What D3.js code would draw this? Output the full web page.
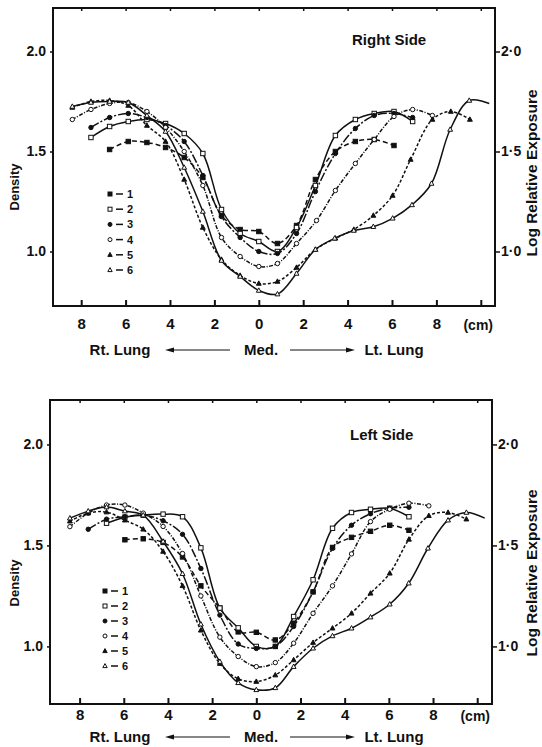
<!DOCTYPE html>
<html>
<head>
<meta charset="utf-8">
<script src="https://cdn.jsdelivr.net/npm/d3@7"></script>
<style>
  body { margin: 0; background: #fff; }
  svg { font-family: "Liberation Sans", Arial, sans-serif; font-weight: bold; }
</style>
</head>
<body>
<div id="chart"></div>
<script>
// ---- data: [cm, density] (negative cm = Rt. Lung side) ----
var xTicks = [-8, -6, -4, -2, 0, 2, 4, 6, 8, 10];
var yTicks = [1.0, 1.5, 2.0];
var seriesNames = ['1', '2', '3', '4', '5', '6'];

// Right Side
var rightS1 = [[-6.72,1.51],[-5.88,1.55],[-5.04,1.545],[-4.2,1.52],[-3.36,1.47],[-2.52,1.37],[-1.68,1.18],[-0.84,1.11],[0,1.10],[0.84,1.04],[1.7,1.13],[2.55,1.36],[3.45,1.50],[4.35,1.55],[5.2,1.56],[6.09,1.53]];
var rightS2 = [[-7.56,1.57],[-6.72,1.625],[-5.88,1.65],[-5.04,1.66],[-4.2,1.64],[-3.36,1.59],[-2.52,1.49],[-1.68,1.21],[-0.84,1.09],[0,1.05],[0.84,1.0],[1.7,1.12],[2.55,1.33],[3.45,1.58],[4.35,1.66],[5.2,1.69],[6.09,1.70],[6.93,1.65]];
var rightS3 = [[-7.56,1.62],[-6.72,1.67],[-5.88,1.69],[-5.04,1.67],[-4.2,1.63],[-3.36,1.55],[-2.52,1.38],[-1.68,1.175],[-0.84,1.07],[0,1.0],[0.84,0.99],[1.7,1.09],[2.55,1.30],[3.45,1.49],[4.35,1.615],[5.2,1.68],[6.09,1.69],[6.93,1.67]];
var rightS4 = [[-8.4,1.66],[-7.56,1.71],[-6.72,1.74],[-5.88,1.745],[-5.04,1.70],[-4.2,1.62],[-3.36,1.50],[-2.52,1.33],[-1.68,1.07],[-0.84,0.975],[0,0.925],[0.84,0.94],[1.7,1.04],[2.6,1.155],[3.45,1.305],[4.35,1.44],[5.2,1.56],[6.09,1.675],[6.93,1.71],[7.82,1.68]];
var rightS5 = [[-8.4,1.72],[-7.56,1.75],[-6.72,1.755],[-5.88,1.73],[-5.04,1.63],[-4.2,1.55],[-3.36,1.36],[-2.52,1.12],[-1.68,0.96],[-0.84,0.88],[0,0.84],[0.84,0.85],[1.7,0.92],[2.55,1.01],[3.45,1.066],[4.28,1.11],[5.16,1.18],[6.03,1.28],[6.84,1.46],[7.82,1.66],[8.65,1.70],[9.51,1.66]];
var rightS6 = [[-8.4,1.725],[-7.56,1.745],[-6.72,1.75],[-5.88,1.745],[-5.04,1.68],[-4.2,1.60],[-3.36,1.42],[-2.52,1.20],[-1.68,0.955],[-0.84,0.875],[0,0.805],[0.84,0.787],[1.7,0.89],[2.55,1.01],[3.42,1.066],[4.28,1.105],[5.16,1.124],[6.03,1.166],[6.9,1.233],[7.78,1.34],[8.62,1.61],[9.48,1.755],[10.38,1.74]];

// Left Side
var leftS1 = [[-5.95,1.528],[-5.12,1.533],[-4.22,1.515],[-3.34,1.443],[-2.51,1.30],[-1.65,1.19],[-0.82,1.072],[0,1.07],[0.86,1.032],[1.69,1.115],[2.57,1.27],[3.45,1.49],[4.31,1.54],[5.17,1.57],[6.04,1.60],[6.91,1.575]];
var leftS2 = [[-6.78,1.61],[-5.95,1.64],[-5.12,1.65],[-4.22,1.655],[-3.34,1.642],[-2.51,1.488],[-1.65,1.19],[-0.82,1.092],[0,1.0],[0.86,1.0],[1.69,1.148],[2.57,1.33],[3.45,1.585],[4.31,1.663],[5.17,1.679],[6.04,1.684],[6.91,1.642]];
var leftS3 = [[-7.61,1.58],[-6.78,1.63],[-5.95,1.642],[-5.12,1.65],[-4.22,1.622],[-3.34,1.555],[-2.51,1.386],[-1.65,1.155],[-0.82,1.012],[0,0.99],[0.86,1.0],[1.69,1.099],[2.57,1.27],[3.45,1.486],[4.31,1.60],[5.17,1.657],[6.04,1.684],[6.91,1.689]];
var leftS4 = [[-8.44,1.593],[-7.61,1.66],[-6.78,1.70],[-5.95,1.70],[-5.12,1.66],[-4.22,1.594],[-3.34,1.46],[-2.51,1.25],[-1.65,1.046],[-0.82,0.95],[0,0.90],[0.86,0.92],[1.69,1.016],[2.57,1.164],[3.45,1.30],[4.31,1.458],[5.17,1.618],[6.04,1.679],[6.91,1.709],[7.81,1.696]];
var leftS5 = [[-8.44,1.62],[-7.61,1.66],[-6.78,1.665],[-5.95,1.625],[-5.12,1.58],[-4.22,1.47],[-3.34,1.30],[-2.51,1.08],[-1.65,0.915],[-0.82,0.84],[0,0.826],[0.86,0.858],[1.69,0.933],[2.57,1.019],[3.45,1.09],[4.31,1.164],[5.17,1.263],[6.04,1.362],[6.91,1.53],[7.81,1.647],[8.68,1.663],[9.51,1.63]];
var leftS6 = [[-8.44,1.635],[-7.61,1.67],[-6.78,1.69],[-5.95,1.67],[-5.12,1.65],[-4.22,1.52],[-3.34,1.36],[-2.51,1.11],[-1.65,0.925],[-0.82,0.82],[0,0.785],[0.86,0.795],[1.69,0.90],[2.57,0.991],[3.45,1.052],[4.31,1.09],[5.17,1.145],[6.04,1.209],[6.9,1.313],[7.77,1.486],[8.68,1.625],[9.51,1.663],[10.34,1.635]];

// ---- styles per series ----
var dashes = ['5,3', null, '9,2,2,2', '4,1.5,1,1.5', '3,2', null];
var symbols = ['square', 'square', 'circle', 'circle', 'triangle', 'triangle'];
var filled = [true, false, true, false, true, false];
var fontFamily = '"Liberation Sans", Arial, sans-serif';

var width = 542, height = 747;
var svg = d3.select('#chart').append('svg')
  .attr('width', width)
  .attr('height', height);

// draws one marker
var drawMarker = function(g, kind, fill, cx, cy, r) {
  var m;
  if (kind === 'circle') {
    m = g.append('circle').attr('cx', cx).attr('cy', cy).attr('r', r);
  } else if (kind === 'square') {
    m = g.append('rect').attr('x', cx - r).attr('y', cy - r).attr('width', 2 * r).attr('height', 2 * r);
  } else {
    m = g.append('path').attr('d', 'M' + cx + ',' + (cy - r * 1.2) + 'L' + (cx + r * 1.1) + ',' + (cy + r * 0.8) + 'L' + (cx - r * 1.1) + ',' + (cy + r * 0.8) + 'Z');
  }
  m.attr('fill', fill ? '#111' : '#fff').attr('stroke', '#111').attr('stroke-width', 1);
};

// draws one panel
var drawPanel = function(p) {
  var x = d3.scaleLinear().domain(p.xDomain).range([p.left, p.right]);
  var y = d3.scaleLinear().domain(p.yDomain).range([p.bottom, p.top]);
  var g = svg.append('g');

  // frame
  g.append('rect')
    .attr('x', p.left).attr('y', p.top)
    .attr('width', p.right - p.left).attr('height', p.bottom - p.top)
    .attr('fill', 'none').attr('stroke', '#111').attr('stroke-width', 2);

  // bottom axis, ticks inward
  var bottomAxis = d3.axisBottom(x).tickValues(xTicks).tickSize(-6).tickPadding(p.labelPad)
    .tickFormat(function(d) { return d === 10 ? '' : Math.abs(d); });
  var ba = g.append('g').attr('transform', 'translate(0,' + p.bottom + ')').call(bottomAxis);
  ba.select('.domain').remove();
  ba.selectAll('line').attr('stroke', '#111').attr('stroke-width', 2);
  ba.selectAll('text').attr('font-size', 15).attr('font-weight', 'bold').attr('fill', '#111')
    .attr('font-family', fontFamily);

  // top ticks
  var ta = g.append('g').attr('transform', 'translate(0,' + p.top + ')')
    .call(d3.axisTop(x).tickValues(xTicks).tickSize(-3).tickFormat(''));
  ta.select('.domain').remove();
  ta.selectAll('line').attr('stroke', '#111').attr('stroke-width', 1.5);

  // left axis
  var la = g.append('g').attr('transform', 'translate(' + p.left + ',0)')
    .call(d3.axisLeft(y).tickValues(yTicks).tickSize(3).tickPadding(4).tickFormat(d3.format('.1f')));
  la.select('.domain').remove();
  la.selectAll('line').attr('stroke', '#111').attr('stroke-width', 1.5);
  la.selectAll('text').attr('font-size', 14).attr('fill', '#111')
    .attr('font-family', fontFamily).attr('font-weight', 'bold');

  // right axis
  var ra = g.append('g').attr('transform', 'translate(' + p.right + ',0)')
    .call(d3.axisRight(y).tickValues(yTicks).tickSize(5).tickPadding(1)
      .tickFormat(function(d) { return d3.format('.1f')(d).replace('.', '·'); }));
  ra.select('.domain').remove();
  ra.selectAll('line').attr('stroke', '#111').attr('stroke-width', 1.5);
  ra.selectAll('text').attr('font-size', 14).attr('fill', '#111')
    .attr('font-family', fontFamily).attr('font-weight', 'bold');

  // curves
  var line = d3.line()
    .x(function(d) { return x(d[0]); })
    .y(function(d) { return y(d[1]); })
    .curve(d3.curveCatmullRom.alpha(0.5));

  p.series.forEach(function(s, i) {
    g.append('path')
      .attr('d', line(s))
      .attr('fill', 'none')
      .attr('stroke', '#111')
      .attr('stroke-width', 1.5)
      .attr('stroke-dasharray', dashes[i]);
  });
  p.series.forEach(function(s, i) {
    var mg = g.append('g');
    s.forEach(function(d, j) {
      if (i === 5 && j === s.length - 1) { return; } // curve 6 tail has no marker
      drawMarker(mg, symbols[i], filled[i], x(d[0]), y(d[1]), 2.2);
    });
  });

  // legend
  seriesNames.forEach(function(name, i) {
    var ly = p.legendTop + i * p.legendStep;
    drawMarker(g, symbols[i], filled[i], p.legendX, ly, 2);
    g.append('line').attr('x1', p.legendX + 6).attr('x2', p.legendX + 13)
      .attr('y1', ly).attr('y2', ly).attr('stroke', '#111').attr('stroke-width', 1.5);
    g.append('text').attr('x', p.legendX + 17).attr('y', ly + 4)
      .attr('font-size', 11).attr('fill', '#111').text(name);
  });

  // title
  g.append('text').attr('x', p.titleX).attr('y', p.titleY)
    .attr('font-size', 15).attr('fill', '#111').text(p.title);

  // (cm)
  g.append('text').attr('x', p.right - 2).attr('y', p.bottom + p.labelPad + 12)
    .attr('text-anchor', 'end').attr('font-size', 14).attr('fill', '#111').text('(cm)');

  // side labels
  g.append('text').attr('transform', 'translate(19,' + p.densityY + ') rotate(-90)')
    .attr('text-anchor', 'middle').attr('font-size', 13).attr('fill', '#111').text('Density');
  g.append('text').attr('transform', 'translate(537,' + p.exposureY + ') rotate(-90)')
    .attr('text-anchor', 'middle').attr('font-size', 15.5).attr('fill', '#111').text('Log Relative Exposure');

  // direction row
  var ry = p.bottom + p.rowOffset;
  g.append('text').attr('x', 120).attr('y', ry).attr('text-anchor', 'middle')
    .attr('font-size', 15).attr('fill', '#111').text('Rt. Lung');
  g.append('text').attr('x', 261).attr('y', ry).attr('text-anchor', 'middle')
    .attr('font-size', 15).attr('fill', '#111').text('Med.');
  g.append('text').attr('x', 394).attr('y', ry).attr('text-anchor', 'middle')
    .attr('font-size', 15).attr('fill', '#111').text('Lt. Lung');
  var ay = ry - 5;
  g.append('line').attr('x1', 170).attr('x2', 230).attr('y1', ay).attr('y2', ay)
    .attr('stroke', '#111').attr('stroke-width', 1.2);
  g.append('path').attr('d', 'M165,' + ay + 'l9,-2.5l0,5z').attr('fill', '#111');
  g.append('line').attr('x1', 290).attr('x2', 350).attr('y1', ay).attr('y2', ay)
    .attr('stroke', '#111').attr('stroke-width', 1.2);
  g.append('path').attr('d', 'M355,' + ay + 'l-9,-2.5l0,5z').attr('fill', '#111');
};

drawPanel({
  left: 53, right: 495, top: 8, bottom: 306,
  xDomain: [-9.27, 10.64], yDomain: [0.7275, 2.2175],
  series: [rightS1, rightS2, rightS3, rightS4, rightS5, rightS6],
  legendX: 110, legendTop: 194, legendStep: 15.2,
  title: 'Right Side', titleX: 352, titleY: 45,
  labelPad: 12, rowOffset: 49, densityY: 187, exposureY: 173
});

drawPanel({
  left: 50, right: 492, top: 400, bottom: 704,
  xDomain: [-9.34, 10.67], yDomain: [0.715, 2.22],
  series: [leftS1, leftS2, leftS3, leftS4, leftS5, leftS6],
  legendX: 105, legendTop: 591, legendStep: 15,
  title: 'Left Side', titleX: 350, titleY: 440,
  labelPad: 5, rowOffset: 38, densityY: 583, exposureY: 573
});
</script>
</body>
</html>
